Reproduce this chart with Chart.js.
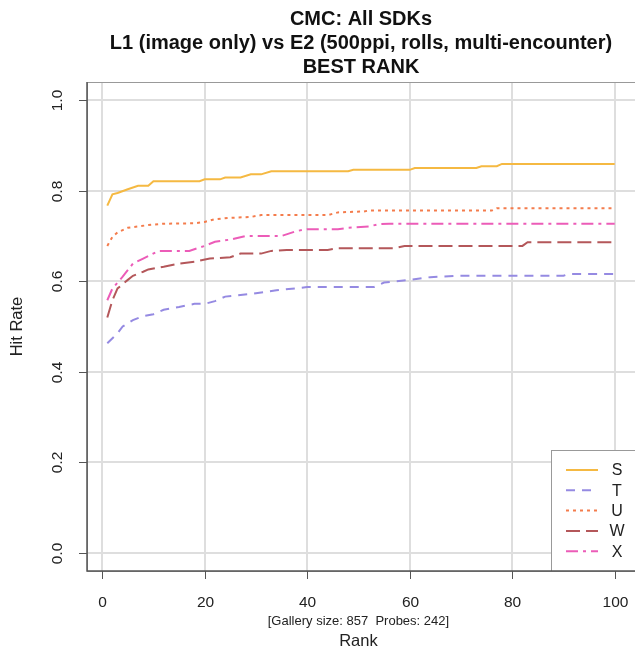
<!DOCTYPE html>
<html>
<head>
<meta charset="utf-8">
<script src="https://cdn.jsdelivr.net/npm/chart.js@4.4.0/dist/chart.umd.min.js"></script>
<style>
  html, body { margin: 0; padding: 0; background: #fff; }
  #wrap { width: 635px; height: 654px; }
</style>
</head>
<body>
<div id="wrap"><canvas id="cmc" width="635" height="654"></canvas></div>
<script>
// CMC curves (rank -> hit rate)
const rankS = [1, 2, 3, 5, 7, 9, 10, 19, 20, 23, 24, 27, 29, 31, 33, 48, 49, 60, 61, 73, 74, 77, 78, 100];
const hitS  = [0.767, 0.792, 0.795, 0.803, 0.811, 0.811, 0.821, 0.821, 0.825, 0.825, 0.829, 0.829, 0.836, 0.836, 0.843, 0.843, 0.846, 0.846, 0.850, 0.850, 0.854, 0.854, 0.859, 0.859];

const rankT = [1, 3, 4, 6, 8, 10, 12, 15, 18, 20, 22, 24, 29, 34, 40, 53, 55, 60, 64, 69, 90, 91, 100];
const hitT  = [0.463, 0.485, 0.500, 0.514, 0.523, 0.527, 0.537, 0.543, 0.550, 0.550, 0.556, 0.566, 0.572, 0.580, 0.587, 0.587, 0.597, 0.603, 0.609, 0.612, 0.612, 0.616, 0.616];

const rankU = [1, 2, 3, 5, 9, 12, 18, 20, 22, 25, 29, 31, 44, 46, 51, 52, 76, 77, 100];
const hitU  = [0.678, 0.698, 0.708, 0.718, 0.724, 0.727, 0.728, 0.731, 0.737, 0.740, 0.742, 0.746, 0.746, 0.752, 0.754, 0.756, 0.756, 0.761, 0.761];

const rankW = [1, 2, 3, 5, 6, 8, 9, 12, 15, 18, 21, 25, 27, 31, 33, 36, 44, 46, 57, 59, 82, 83, 100];
const hitW  = [0.520, 0.558, 0.584, 0.603, 0.612, 0.621, 0.626, 0.632, 0.639, 0.643, 0.650, 0.653, 0.661, 0.661, 0.667, 0.669, 0.669, 0.673, 0.673, 0.678, 0.678, 0.686, 0.686];

const rankX = [1, 2, 4, 6, 8, 11, 17, 20, 22, 25, 28, 35, 38, 40, 46, 48, 52, 54, 56, 100];
const hitX  = [0.558, 0.584, 0.610, 0.639, 0.650, 0.667, 0.667, 0.678, 0.687, 0.692, 0.700, 0.700, 0.711, 0.715, 0.715, 0.718, 0.721, 0.726, 0.727, 0.727];

const seriesNames = ["S", "T", "U", "W", "X"];
const seriesColors = ["#f5b942", "#958ae2", "#f47c4c", "#b4575a", "#ec5cb8"];
const seriesDash = [[], [9, 7], [3, 4], [14, 6], [12, 5, 3, 5]];

const xTicks = [0, 20, 40, 60, 80, 100];
const yTicks = [0, 0.2, 0.4, 0.6, 0.8, 1.0];
const yTickLabels = ["0.0", "0.2", "0.4", "0.6", "0.8", "1.0"];

const titleLines = ["CMC: All SDKs", "L1 (image only) vs E2 (500ppi, rolls, multi-encounter)", "BEST RANK"];
const subNote = "[Gallery size: 857  Probes: 242]";
const xTitle = "Rank";
const yTitle = "Hit Rate";

const FONT = "'Liberation Sans', Arial, Helvetica, sans-serif";

function pairs(xs, ys) {
    return xs.map((x, i) => ({ x: x, y: ys[i] }));
}

function putText(ctx, str, x, y, font, rot) {
    ctx.save();
    ctx.translate(x, y);
    if (rot) ctx.rotate(rot);
    ctx.font = font;
    ctx.textAlign = "center";
    ctx.textBaseline = "middle";
    ctx.fillText(str, 0, 0);
    ctx.restore();
}

const allRanks = [rankS, rankT, rankU, rankW, rankX];
const allHits = [hitS, hitT, hitU, hitW, hitX];

const datasets = seriesNames.map((name, i) => ({
    label: name,
    data: pairs(allRanks[i], allHits[i]),
    borderColor: seriesColors[i],
    borderWidth: 2,
    borderDash: seriesDash[i],
    pointRadius: 0,
    fill: false,
    tension: 0
}));

// R-style frame, axes, text and legend
const rStyle = {
    id: "rStyle",
    afterDraw(chart) {
        const ctx = chart.ctx;
        const a = chart.chartArea;
        const xs = chart.scales.x;
        const ys = chart.scales.y;
        ctx.save();

        // legend box
        const lgLeft = 551, lgTop = 450;
        ctx.fillStyle = "#fff";
        ctx.fillRect(lgLeft, lgTop, a.right - lgLeft, a.bottom - lgTop);
        ctx.strokeStyle = "#999";
        ctx.lineWidth = 1;
        ctx.strokeRect(lgLeft + 0.5, lgTop + 0.5, a.right - lgLeft + 2, a.bottom - lgTop);
        seriesNames.forEach((name, i) => {
            const y = 470 + i * 20.3;
            ctx.beginPath();
            ctx.setLineDash(seriesDash[i]);
            ctx.strokeStyle = seriesColors[i];
            ctx.lineWidth = 2;
            ctx.moveTo(566, y);
            ctx.lineTo(598, y);
            ctx.stroke();
            ctx.setLineDash([]);
            ctx.fillStyle = "#222";
            putText(ctx, name, 617, y + 1, "16px " + FONT, 0);
        });

        // plot frame
        ctx.strokeStyle = "#999";
        ctx.lineWidth = 1;
        ctx.strokeRect(a.left + 0.5, a.top + 0.5, a.right - a.left + 2, a.bottom - a.top);
        ctx.strokeStyle = "#555";
        ctx.lineWidth = 1.5;
        ctx.beginPath();
        ctx.moveTo(a.left, a.top);
        ctx.lineTo(a.left, a.bottom);
        ctx.lineTo(a.right, a.bottom);
        ctx.stroke();

        // ticks and tick labels
        ctx.lineWidth = 1;
        ctx.strokeStyle = "#555";
        ctx.fillStyle = "#222";
        xTicks.forEach(v => {
            const px = Math.round(xs.getPixelForValue(v)) + 0.5;
            ctx.beginPath();
            ctx.moveTo(px, a.bottom);
            ctx.lineTo(px, a.bottom + 8);
            ctx.stroke();
            putText(ctx, String(v), px, 602.5, "15.5px " + FONT, 0);
        });
        yTicks.forEach((v, i) => {
            const py = Math.round(ys.getPixelForValue(v)) + 0.5;
            ctx.beginPath();
            ctx.moveTo(a.left, py);
            ctx.lineTo(a.left - 8, py);
            ctx.stroke();
            putText(ctx, yTickLabels[i], 58, py, "15.5px " + FONT, -Math.PI / 2);
        });

        // axis titles
        const mid = (xs.getPixelForValue(0) + xs.getPixelForValue(100)) / 2;
        putText(ctx, subNote, mid, 621, "13px " + FONT, 0);
        putText(ctx, xTitle, mid, 641, "16.5px " + FONT, 0);
        putText(ctx, yTitle, 17, (a.top + a.bottom) / 2, "16.5px " + FONT, -Math.PI / 2);

        // title
        ctx.fillStyle = "#111";
        const cx = (a.left + a.right) / 2;
        titleLines.forEach((t, i) => putText(ctx, t, cx, 19 + i * 24, "bold 20px " + FONT, 0));

        ctx.restore();
    }
};

new Chart(document.getElementById("cmc"), {
    type: "line",
    data: { datasets: datasets },
    options: {
        responsive: false,
        animation: false,
        devicePixelRatio: 1,
        layout: { padding: { top: 82, left: 0, right: 0, bottom: 0 } },
        plugins: {
            legend: { display: false },
            title: { display: false },
            tooltip: { enabled: false }
        },
        scales: {
            x: {
                type: "linear",
                min: -2.96,
                max: 103.96,
                afterBuildTicks: s => { s.ticks = xTicks.map(v => ({ value: v })); },
                afterFit: s => { s.height = 83; },
                ticks: { display: false },
                border: { display: false },
                grid: { color: "#dedede", lineWidth: 2, drawTicks: false }
            },
            y: {
                type: "linear",
                min: -0.04,
                max: 1.04,
                afterBuildTicks: s => { s.ticks = yTicks.map(v => ({ value: v })); },
                afterFit: s => { s.width = 87; },
                ticks: { display: false },
                border: { display: false },
                grid: { color: "#dedede", lineWidth: 2, drawTicks: false }
            }
        }
    },
    plugins: [rStyle]
});
</script>
</body>
</html>
